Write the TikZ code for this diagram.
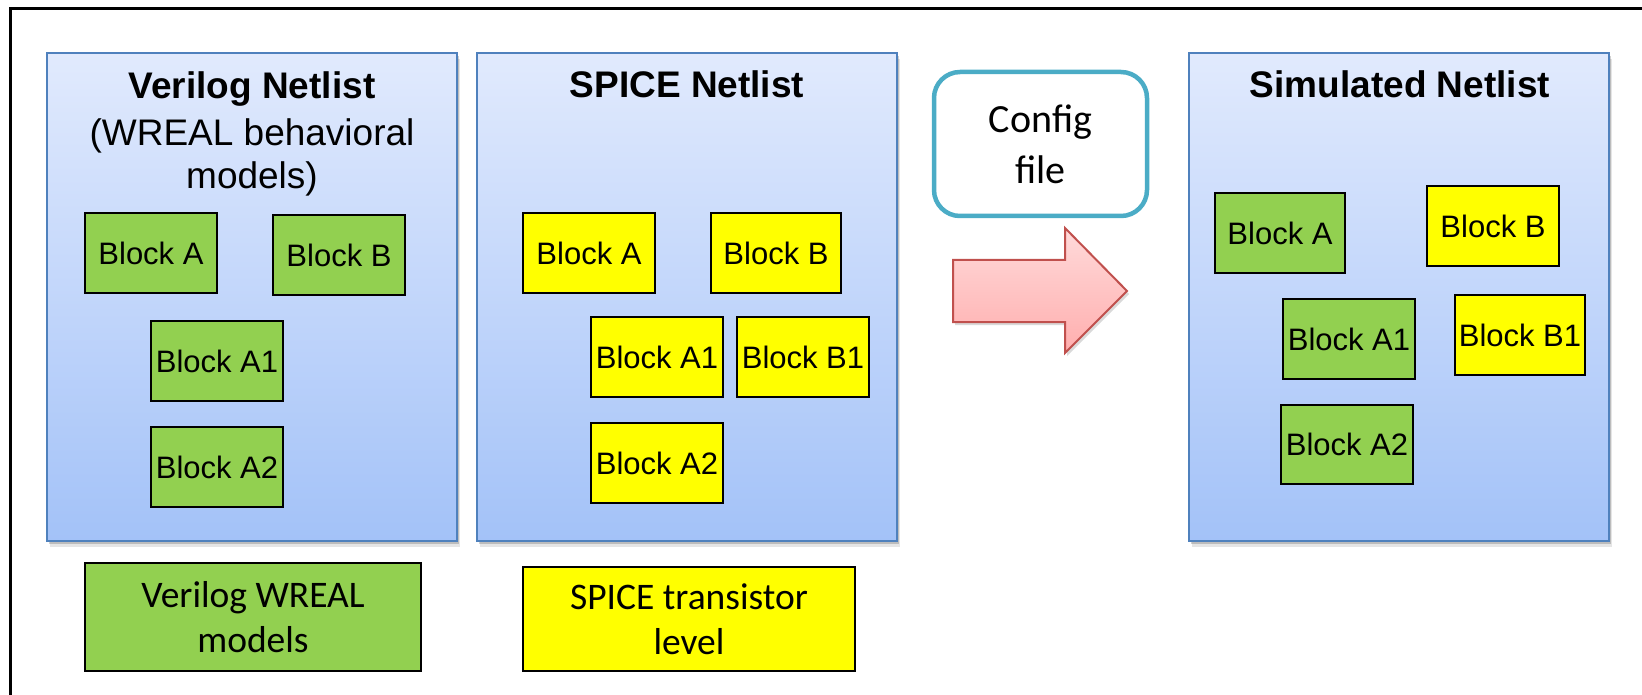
\documentclass[tikz,border=0pt]{standalone}
\usepackage{fontspec}
\newfontfamily\arialf{Liberation Sans}
\newfontfamily\calf{Carlito}
\usetikzlibrary{shadows}
\definecolor{paneltop}{HTML}{E1EAFD}
\definecolor{panelbot}{HTML}{A3C2F8}
\definecolor{panelborder}{HTML}{4F81BD}
\definecolor{blockgreen}{HTML}{92D050}
\definecolor{blockyellow}{HTML}{FFFF00}
\definecolor{cfgborder}{HTML}{4BACC6}
\definecolor{arrowborder}{HTML}{C0504D}
\definecolor{arrowtop}{HTML}{FFDADA}
\definecolor{arrowbot}{HTML}{FFAEAE}
\tikzset{
  softshadow/.style={
    drop shadow={shadow xshift=1.5pt, shadow yshift=-3pt, opacity=0.18, fill=black},
    drop shadow={shadow xshift=3pt, shadow yshift=-6pt, opacity=0.10, fill=black}},
  panel/.style={draw=panelborder, line width=2pt, top color=paneltop, bottom color=panelbot,
    inner sep=0pt, softshadow},
  blockbox/.style={draw=black, line width=2pt, inner sep=0pt,
    font=\arialf\fontsize{31}{37}\selectfont, minimum width=132pt, minimum height=80pt},
  blockg/.style={blockbox, fill=blockgreen},
  blocky/.style={blockbox, fill=blockyellow},
  paneltitle/.style={font=\arialf\bfseries\fontsize{37}{44}\selectfont, inner sep=0pt, anchor=base},
  legendbox/.style={draw=black, line width=2pt, inner sep=0pt, align=center,
    font=\calf\fontsize{37.5}{45.5}\selectfont},
  cfgbox/.style={draw=cfgborder, line width=4.5pt, fill=white, rounded corners=26pt,
    inner sep=0pt, align=center, font=\calf\fontsize{40}{51}\selectfont,
    minimum width=213pt, minimum height=144pt}
}
\begin{document}
\begin{tikzpicture}[x=1pt,y=-1pt]
\useasboundingbox (0,0) rectangle (1642,695);
% outer frame (only top and left edges visible)
\coordinate (fbl) at (10,695);
\coordinate (ftl) at (10,9);
\coordinate (ftr) at (1642,9);
\draw[line width=3pt] (fbl) -- (ftl) -- (ftr);

% panels
\node[panel, minimum width=410pt, minimum height=488pt] (vpanel) at (252,297) {};
\node[panel, minimum width=420pt, minimum height=488pt] (spanel) at (687,297) {};
\node[panel, minimum width=420pt, minimum height=488pt] (mpanel) at (1399,297) {};

% titles
\node[paneltitle] (vtitle) at (252,99) {Verilog Netlist};
\node[inner sep=0pt, align=center, font=\arialf\fontsize{37}{43}\selectfont] (vsub) at (252,157) {(WREAL behavioral\\models)};
\node[paneltitle] (stitle) at (687,98) {SPICE Netlist};
\node[paneltitle] (mtitle) at (1400,98) {Simulated Netlist};

% Verilog blocks
\node[blockg] (vA) at (151,253) {Block A};
\node[blockg] (vB) at (339,255) {Block B};
\node[blockg] (vA1) at (217,361) {Block A1};
\node[blockg] (vA2) at (217,467) {Block A2};

% SPICE blocks
\node[blocky] (sA) at (589,253) {Block A};
\node[blocky, minimum width=130pt] (sB) at (776,253) {Block B};
\node[blocky] (sA1) at (657,357) {Block A1};
\node[blocky] (sB1) at (803,357) {Block B1};
\node[blocky] (sA2) at (657,463) {Block A2};

% Simulated blocks
\node[blockg, minimum width=130pt] (mA) at (1280,233) {Block A};
\node[blocky] (mB) at (1493,226.5) {Block B};
\node[blockg] (mA1) at (1349,339) {Block A1};
\node[blocky, minimum width=130pt] (mB1) at (1520,335) {Block B1};
\node[blockg, minimum height=79pt] (mA2) at (1347,444) {Block A2};

% legend
\node[legendbox, fill=blockgreen, minimum width=336pt, minimum height=108pt] (lg) at (253,617) {Verilog WREAL\\models};
\node[legendbox, fill=blockyellow, minimum width=332pt, minimum height=104pt] (ly) at (689,619) {SPICE transistor\\level};

% config file
\node[cfgbox] (cfg) at (1040.5,144) {Config\\file};

% arrow
\draw[draw=arrowborder, line width=2pt, top color=arrowtop, bottom color=arrowbot, line join=miter,
  drop shadow={shadow xshift=2pt, shadow yshift=-3pt, opacity=0.15, fill=black}]
  (953,260) -- (1065,260) -- (1065,228) -- (1127,291) -- (1065,353) -- (1065,322) -- (953,322) -- cycle;
\end{tikzpicture}
\end{document}
